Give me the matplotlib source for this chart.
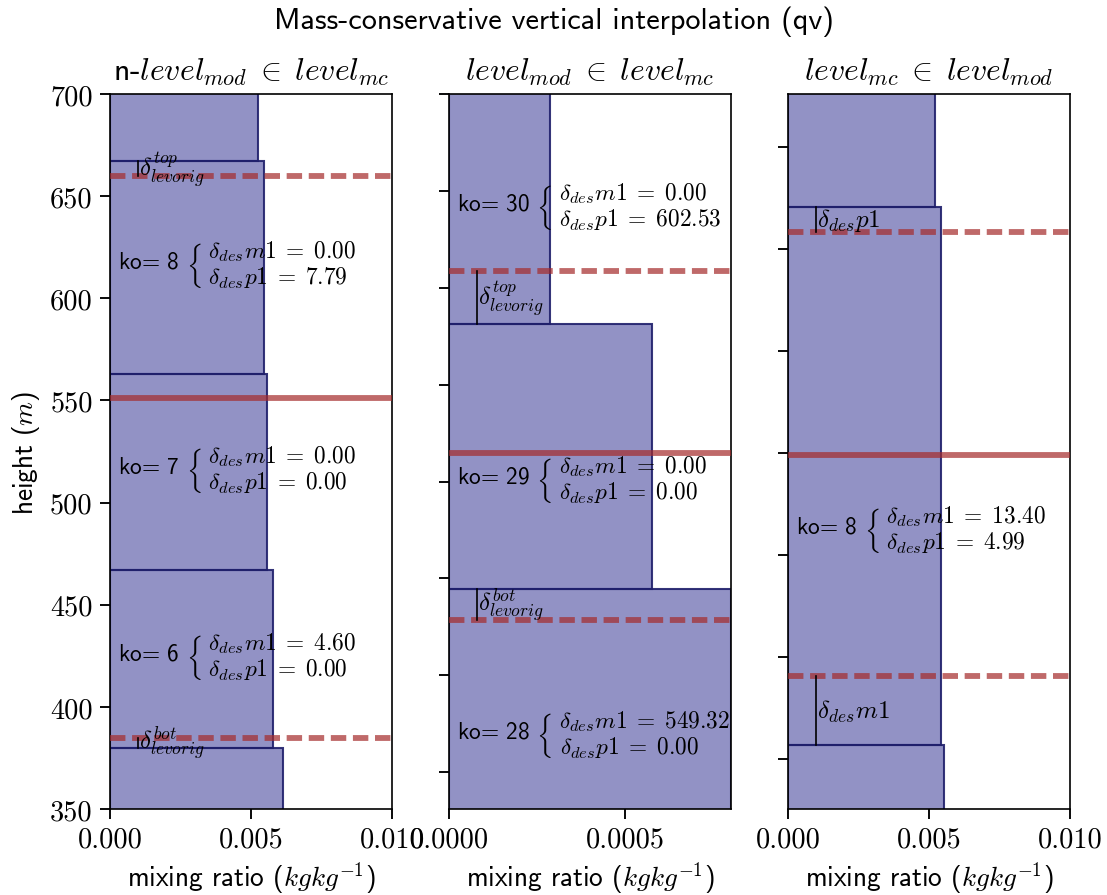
import matplotlib
matplotlib.use("Agg")
import matplotlib.pyplot as plt
from matplotlib.mathtext import MathTextParser
from matplotlib.font_manager import FontProperties

plt.rcParams["mathtext.fontset"] = "cm"
plt.rcParams["font.family"] = "cmss10"
plt.rcParams["axes.unicode_minus"] = False

# ---------------- panel 1: n-level_mod in level_mc ----------------
p1_bottom = [290.0, 380.0, 467.0, 562.9, 667.2]
p1_top = [380.0, 467.0, 562.9, 667.2, 775.0]
p1_qv = [0.00613, 0.00578, 0.00557, 0.00546, 0.00525]
p1_mc_dashed = [384.8, 660.0]
p1_mc_solid = 551.0
p1_ko = [6, 7, 8]
p1_ko_height = [425.0, 516.5, 616.8]
p1_dm1 = [4.60, 0.00, 0.00]
p1_dp1 = [0.00, 0.00, 7.79]
p1_ylim = (350.0, 700.0)
p1_xlim = (0.0, 0.010)
p1_xticks = [0.0, 0.005, 0.010]

# ---------------- panel 2: level_mod in level_mc ----------------
p2_bottom = [2660.0, 2794.5, 2931.3]
p2_top = [2794.5, 2931.3, 3060.0]
p2_qv = [0.00080, 0.000577, 0.000287]
p2_mc_dashed = [2778.5, 2958.7]
p2_mc_solid = 2864.7
p2_ko = [28, 29, 30]
p2_ko_height = [2719.7, 2851.3, 2992.2]
p2_dm1 = [549.32, 0.00, 0.00]
p2_dp1 = [0.00, 0.00, 602.53]
p2_ylim = (2681.0, 3050.0)
p2_xlim = (0.0, 0.0008)
p2_xticks = [0.0, 0.0005]

# ---------------- panel 3: level_mc in level_mod ----------------
p3_bottom = [300.0, 407.0, 670.4]
p3_top = [407.0, 670.4, 800.0]
p3_qv = [0.00553, 0.00543, 0.00521]
p3_mc_dashed = [440.8, 658.1]
p3_mc_solid = 549.0
p3_ko = [8]
p3_ko_height = [512.8]
p3_dm1 = [13.40]
p3_dp1 = [4.99]
p3_ylim = (375.7, 725.7)
p3_xlim = (0.0, 0.010)
p3_xticks = [0.0, 0.005, 0.010]

titles = [r"n-$level_{mod}\;\in\;level_{mc}$",
          r"$level_{mod}\;\in\;level_{mc}$",
          r"$level_{mc}\;\in\;level_{mod}$"]
suptitle = "Mass-conservative vertical interpolation (qv)"
xlabel = r"mixing ratio ($kgkg^{-1}$)"
ylabel = r"height ($m$)"

BAR_FACE = (0.05, 0.05, 0.5, 0.45)
BAR_EDGE = (0.12, 0.12, 0.42, 0.9)
MC_COLOR = (0.647, 0.165, 0.165, 0.7)
LW_MC = 2.8
DASH = (0, (7.4 / LW_MC, 3.2 / LW_MC))
FS_TICK = 13.6
FS_LABEL = 13.1
FS_NOTE = 11.2
FS_MARK = 12.0
FS_TITLE = 14.5
FS_SUBTITLE = 15.2

_parser = MathTextParser("path")


def _mwidth(s, size):
    return _parser.parse(s, dpi=72, prop=FontProperties(size=size)).width


def ko_note(ko, dm1, dp1, size):
    l1 = r"\delta_{des}m1\;=\;%.2f" % dm1
    l2 = r"\delta_{des}p1\;=\;%.2f" % dp1
    w1 = _mwidth("$" + l1 + "$", size)
    w2 = _mwidth("$" + l2 + "$", size)
    em = _mwidth("$m$", size)
    pad = abs(w1 - w2) / em
    if w1 > w2:
        l2 += r"\hspace{%.3f}" % pad
    elif w2 > w1:
        l1 += r"\hspace{%.3f}" % pad
    return ("ko= %d " % ko + r"$\left\{\;\genfrac{}{}{0}{0}{" + l1 + "}{"
            + l2 + r"}\right.$")


fig = plt.figure(figsize=(7.38, 5.9733), dpi=150)
W, H = 1107.0, 896.0
lefts = [110, 449, 788]
axes = [fig.add_axes([l / W, (H - 810) / H, 282 / W, 715 / H]) for l in lefts]

panels = [
    dict(bottom=p1_bottom, top=p1_top, qv=p1_qv, dashed=p1_mc_dashed,
         solid=p1_mc_solid, ko=p1_ko, koh=p1_ko_height, dm1=p1_dm1,
         dp1=p1_dp1, ylim=p1_ylim, xlim=p1_xlim, xticks=p1_xticks, fmt="%.3f",
         marks=[(p1_mc_dashed[1], p1_bottom[4], r"$\delta^{top}_{levorig}$"),
                (p1_bottom[1], p1_mc_dashed[0], r"$\delta^{bot}_{levorig}$")]),
    dict(bottom=p2_bottom, top=p2_top, qv=p2_qv, dashed=p2_mc_dashed,
         solid=p2_mc_solid, ko=p2_ko, koh=p2_ko_height, dm1=p2_dm1,
         dp1=p2_dp1, ylim=p2_ylim, xlim=p2_xlim, xticks=p2_xticks, fmt="%.4f",
         marks=[(p2_bottom[2], p2_mc_dashed[1], r"$\delta^{top}_{levorig}$"),
                (p2_mc_dashed[0], p2_bottom[1], r"$\delta^{bot}_{levorig}$")]),
    dict(bottom=p3_bottom, top=p3_top, qv=p3_qv, dashed=p3_mc_dashed,
         solid=p3_mc_solid, ko=p3_ko, koh=p3_ko_height, dm1=p3_dm1,
         dp1=p3_dp1, ylim=p3_ylim, xlim=p3_xlim, xticks=p3_xticks, fmt="%.3f",
         marks=[(p3_mc_dashed[1], p3_bottom[2], r"$\delta_{des}p1$"),
                (p3_bottom[1], p3_mc_dashed[0], r"$\delta_{des}m1$")]),
]

for i, (ax, p) in enumerate(zip(axes, panels)):
    heights = [t - b for b, t in zip(p["bottom"], p["top"])]
    ax.barh(p["bottom"], p["qv"], height=heights, left=0, align="edge",
            facecolor=BAR_FACE, edgecolor=BAR_EDGE, linewidth=1.0, zorder=1)
    for yd in p["dashed"]:
        ax.axhline(yd, color=MC_COLOR, lw=LW_MC, linestyle=DASH, zorder=3)
    ax.axhline(p["solid"], color=MC_COLOR, lw=LW_MC, zorder=3)

    xmax = p["xlim"][1]
    for y0, y1, lab in p["marks"]:
        ax.plot([0.1 * xmax, 0.1 * xmax], [y0, y1], color="black", lw=0.8,
                zorder=4)
        ax.text(0.1 * xmax + 0.004 * xmax, 0.5 * (y0 + y1), lab,
                fontsize=FS_MARK, ha="left", va="center", zorder=5)

    for ko, h, dm, dp in zip(p["ko"], p["koh"], p["dm1"], p["dp1"]):
        ax.text(0.028 * xmax, h, ko_note(ko, dm, dp, FS_NOTE),
                fontsize=FS_NOTE, ha="left", va="center", zorder=5)

    ax.set_xlim(*p["xlim"])
    ax.set_ylim(*p["ylim"])
    ax.set_xticks(p["xticks"])
    ax.set_xticklabels([p["fmt"] % v for v in p["xticks"]])
    ax.tick_params(labelfontfamily="cmr10", labelsize=FS_TICK, length=4.8,
                   width=0.9)
    if i > 0:
        ax.tick_params(labelleft=False)
    ax.set_xlabel(xlabel, fontsize=FS_LABEL, labelpad=3)
    ax.set_title(titles[i], fontsize=FS_SUBTITLE, pad=7)

axes[0].set_ylabel(ylabel, fontsize=FS_LABEL)
fig.suptitle(suptitle, fontsize=FS_TITLE, y=0.993)

fig.savefig("out.png", dpi=150)
